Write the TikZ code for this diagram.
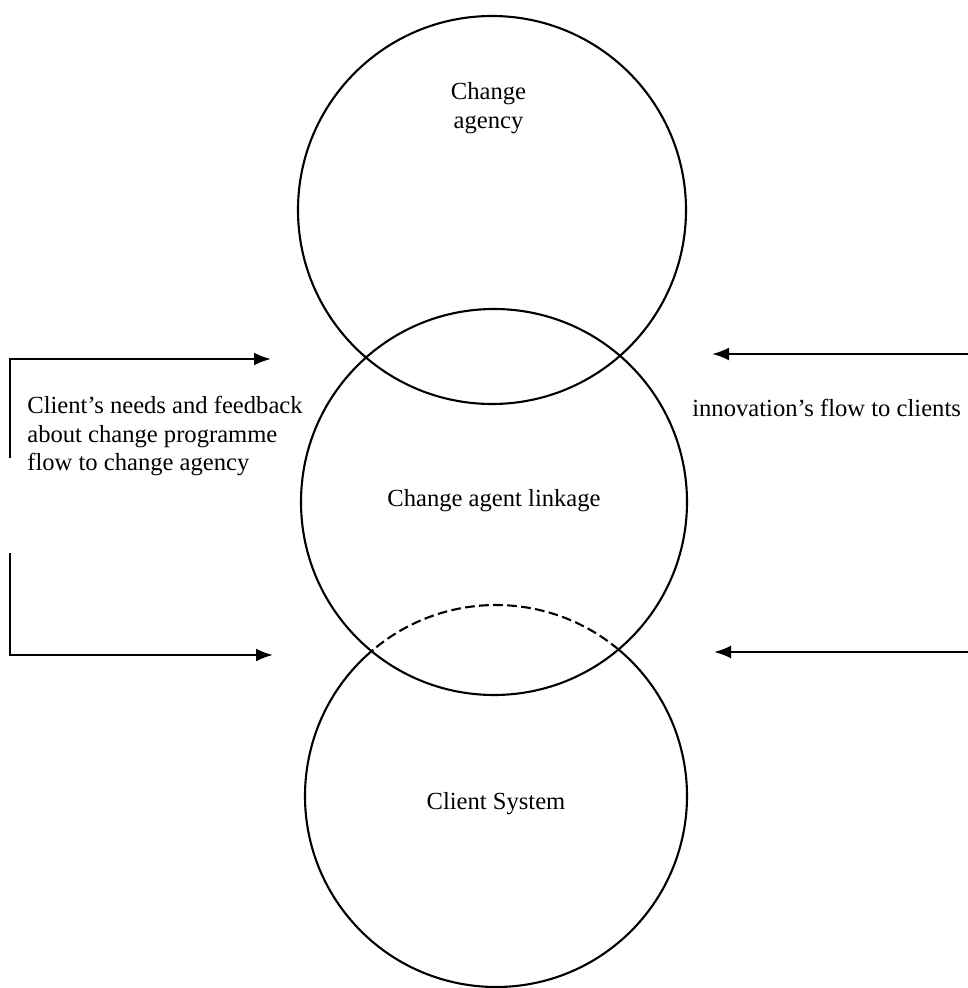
\documentclass[tikz,border=0pt]{standalone}
\usepackage{fontspec}
\setmainfont{Liberation Serif}
\usetikzlibrary{arrows.meta}

\begin{document}
\begin{tikzpicture}[
    ring/.style={circle, draw, line width=1.2pt, minimum size=#1, inner sep=0pt, outer sep=0pt},
    label/.style={font=\fontsize{14}{16.3}\selectfont, inner sep=0pt},
    flow/.style={line width=1.3pt, -{Latex[length=0.34cm, width=0.26cm]}}
]

    \useasboundingbox (0,0) rectangle (19.36,19.76);

    % the three overlapping circles
    \node[ring=7.76cm] (agency) at (9.84,15.56) {};
    \node[ring=7.72cm] (linkage) at (9.88,9.72) {};
    \node[circle, minimum size=7.64cm, inner sep=0pt, outer sep=0pt] (client) at (9.92,3.84) {};
    \draw [line width=1.2pt] (client.130) arc[start angle=130, end angle=410, radius=3.82cm];
    \draw [line width=1.2pt, dash pattern=on 5.5pt off 2.5pt] (client.50) arc[start angle=50, end angle=130, radius=3.82cm];

    % texts
    \node[label, anchor=north, align=center] (agencytext) at (9.77,18.12) {Change\\agency};
    \node[label, anchor=base] (linkagetext) at (9.88,9.62) {Change agent linkage};
    \node[label, anchor=base] (clienttext) at (9.92,3.56) {Client System};
    \node[label, anchor=north west, align=left] (needs) at (0.54,11.84) {Client's needs and feedback\\about change programme\\flow to change agency};
    \node[label, anchor=base west] (innov) at (13.84,11.42) {innovation's flow to clients};

    % flows
    \coordinate (needs1) at (0.2,10.60);
    \coordinate (needs2) at (5.42,12.58);
    \coordinate (needs3) at (0.2,8.70);
    \coordinate (needs4) at (5.46,6.66);
    \coordinate (innov1) at (19.36,12.68);
    \coordinate (innov2) at (14.24,12.68);
    \coordinate (innov3) at (19.36,6.72);
    \coordinate (innov4) at (14.28,6.72);

    \draw [flow] (needs1) |- (needs2);
    \draw [flow] (needs3) |- (needs4);
    \draw [flow] (innov1) -- (innov2);
    \draw [flow] (innov3) -- (innov4);

\end{tikzpicture}
\end{document}
